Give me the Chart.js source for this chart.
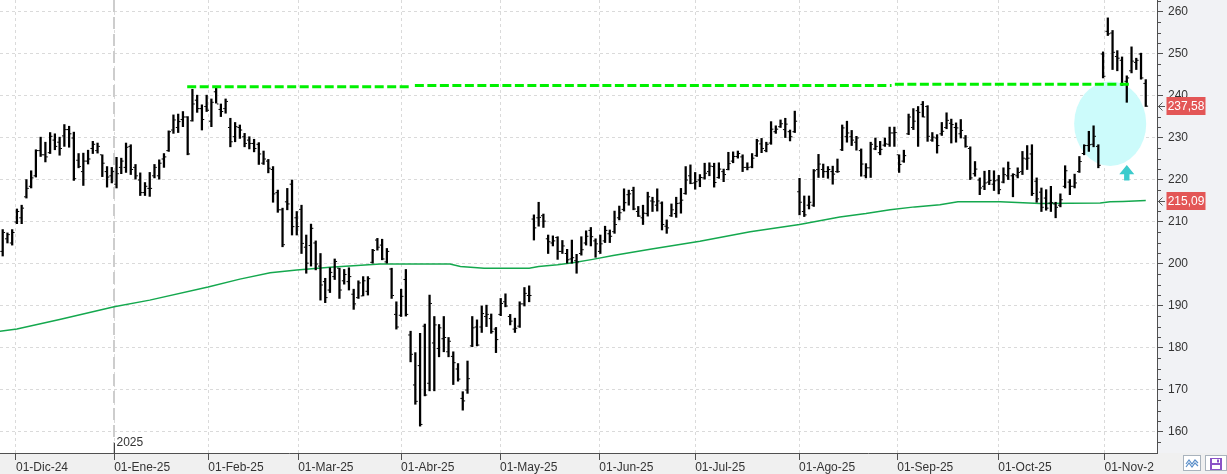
<!DOCTYPE html>
<html><head><meta charset="utf-8">
<script src="https://cdn.jsdelivr.net/npm/chart.js@4.4.1/dist/chart.umd.min.js"></script>
<style>html,body{margin:0;padding:0;background:#f0f0f0;overflow:hidden}canvas{display:block}</style>
</head><body>
<canvas id="c" width="1227" height="474"></canvas>
<script>
// ---------------- DATA ----------------
const highs = [
208.2,207.4,208.2,213.1,214,220.1,222.2,227.2,230.2,229,
231.3,231,230.2,233.2,232.8,231.4,226.3,226.4,227.1,229.2,
228.8,226,223.2,223,225.4,225.2,228.8,228.4,223.7,221.7,
219.4,221.8,223.7,224.8,226.3,231.7,235.5,235.7,236.3,235.1,
241.6,240.2,237.9,240.2,239.3,242.2,238.1,239.3,234.7,233.7,
233.1,231.1,230.3,229.7,228.9,226.9,224.9,223.2,217.6,213.3,
218,220,212.5,214,206.9,209.5,205.5,202.5,196.6,199.1,
201.2,199,198.7,199.1,194,196,197,197,203.5,206.1,
205.9,203.7,199,191,194,198.7,184,178.9,183.5,185.7,
192.6,187.5,185.6,187.5,182.5,179.1,176.3,169.6,176.9,187.5,
186.7,190,190.2,188.1,184.9,191.8,192.9,188,187.1,191,
194.4,194.8,211.7,214.7,211.9,206.9,206.7,206.5,205.6,203.5,
205.7,202.3,206.5,207.9,208.7,206,206.9,209,208.1,212.6,
213.8,217.9,217.6,218.3,213.7,214,217.1,215.9,217.9,214.8,
210.5,214.3,215.9,218,223.2,223.6,221.8,221.3,224,224.1,
224,224.1,222.6,226.6,226.7,226.9,226,224.1,226.3,229.7,
229.9,229,233.9,232.9,234.3,234.7,231.9,236.4,220.4,216.2,
216.2,222.5,226.1,223.8,223.2,223.3,225,233.1,234,231.8,
230.4,227.4,223.9,229,230,229.2,230,232.6,232.6,226,
227.1,235.7,237,237.5,238.7,237.7,231.3,230.8,233.7,236,
234.5,233.6,234.4,230.6,227.9,224.4,220.5,222.1,222.3,222.2,
221.1,222.9,224.3,221.5,222.9,226.8,228.2,228.4,220.5,218.1,
217.7,218.5,214.7,216.7,223.4,220.1,221.4,225.6,228.4,231.6,
232.9,228.4,250.5,258.6,255.6,250.8,249.3,244.8,251.7,249,
250.2,243.9];
const lows = [
201.9,205,204.5,209.6,209.6,215.7,218.1,220.7,225.6,224.3,
226.3,227.2,225.9,228,227.8,219.9,222.9,218.7,223.8,226.3,
226.4,220.8,218.3,219.3,218.1,221.5,221.8,221.3,220.2,216.3,
216.3,216.1,220.5,220.2,223,226.8,231.1,231.3,232.7,226,
234,236.1,231.9,236.3,232.7,238.3,235.1,235.9,227.9,229.1,
229.9,227.9,227.4,226.7,223.7,223.7,221.7,214.7,212.3,204.1,
212.9,206.9,206.9,202.5,197.8,199.5,198.6,191.4,190.8,193.2,
196.3,191.8,195.2,193.8,189.2,191.8,192.4,192.6,200.2,203.3,
201,200.2,191.8,184.5,187.5,187.6,176.7,166.6,161.4,168.6,
169.8,169.8,177.9,179.1,177.9,171.3,172.1,165.2,169.2,180.3,
180.5,183.7,185.1,183.5,178.9,187.7,189.8,185.5,183.7,184.9,
190,191,205.7,209,208.7,202.5,204.3,201.1,202.5,200.2,
200.2,197.8,202.1,204.5,204.3,201.6,202.5,205.1,205.1,207.3,
210.5,212.6,214,212.9,211.3,209.4,211.4,212.5,212.6,208.1,
207.3,211.3,211.1,212.1,216.6,219.1,217.8,218.4,220.2,221,
218.3,220.4,219.6,222.4,224.1,225.2,222,222.4,222.9,225.6,
226.5,226.7,228.5,231.1,232.5,230.1,229.3,231.3,211.7,211.3,
213.1,213.7,220.6,220.6,220.4,219,221.8,227,229,228.2,
227.1,220.9,220.5,220.6,227.2,226,228,228,228,221.8,
224.2,230.8,232,228,235,229.2,229.2,226.4,230.6,232.2,
228.8,229,230,227.8,220.1,220.9,216.5,217.7,218.9,217.5,
216.7,219.3,220.1,216,220.5,221.3,222.5,216.3,214.7,212.5,
212.8,212.5,211,213.6,218.1,216.5,218.1,221.8,226,226.8,
227.9,222.9,244.3,254.4,246.3,246,242.5,238.5,245.5,246.3,
244,237.5];
const opens = [
203,206,205,210,211,216,218.5,221,227,226,
226.5,229.5,229,230.5,232,230,224.7,222,224.5,227.5,
227,226,222,221,219,223,223,228,223,220,
217,218,221,221,225,227,231.9,232.5,234.4,235,
234.1,239,237,237.5,234,241,236.8,237,232.5,230.3,
232.5,230.3,229.5,228.7,228.5,224,224.5,222.5,217,212.9,
214.8,219,211,213,204,204.4,205,199.5,195.8,193.8,
197,199,196,195.8,192.8,192,192.4,193.5,200.4,205.7,
204.5,200.5,198.8,188,187.8,196.3,183.1,171.2,175.8,185.2,
171.6,181.2,179.9,182.2,179.1,178,175,168,170,180.5,
185,185,187.5,187,184.5,188,191,187.5,184.5,185.2,
190.5,192.5,210.7,211,211.5,206,205,206.3,203,202.5,
201.2,200.8,202.5,205,208,205.5,203,205.5,207.2,207.7,
211,213,216.5,217.5,212.5,211,212,215,214,214.5,
209,211.5,212,214.5,216.8,221,219.3,220,220.5,222,
223.2,220.6,222,222.5,224.5,225.6,225.5,223,223.1,225.8,
228.6,227,228.8,231.5,232.7,232,231.5,231.5,217.2,212.5,
214,214,222.5,222.5,222,222,222,227.2,230.3,230.3,
229,227,221,222.9,227.4,226.5,228.3,228.5,231.2,226,
224.5,231,232.5,236.5,238,237.5,229.5,230,231,232.5,
233.5,232.5,231,230,227.5,221.5,220,218.5,219.5,219,
220,219.5,221,221,221,222,225,226.2,219.7,217.1,
215.7,214.5,214.3,214,218.5,219.5,218.5,222,226.3,228.2,
228.5,228,250,255.4,255,249.4,248.5,243.5,246,248,
250,243];
const closes = [
207.5,207,207.5,212.5,213.3,218,220.5,227,226,225.5,
230.4,228,227.5,232,231,220.3,223.2,224.5,225,228.5,
228,224,220.7,222,221.5,224.5,227.8,222.5,221,217,
218.5,218,223,224,225.5,231.5,234.3,233.9,235,226.2,
238.1,237,234.4,236.6,238.5,238.1,236.3,238.7,229.1,232.7,
231.9,228.7,228.7,227.5,226.2,225,222.8,216.7,212.9,204.6,
214.3,208.9,208.9,204.9,200.2,208.5,200,195,192,198,
200.6,193.8,197.5,197,190.5,195.5,196,196.5,203.2,204,
201.2,203,192.5,185,192.3,188,178.5,167.3,161.8,168.8,
190.6,185.5,184.8,182.5,181.6,176.5,172.6,167.4,172.7,184.8,
180.7,188.2,188,183.9,182,190.6,190,186.4,184.7,190.5,
193,192.5,208.6,211.1,210.2,205.3,205.5,203,204.3,201,
201.5,200.5,203.4,206.6,206.5,204.8,204.8,208,206.6,209.4,
212.2,214.6,216.7,213.1,211.4,212.1,216,214.8,215,209.4,
208.6,212.9,214.4,215.2,220,219.2,219.6,220.6,221.6,223.3,
219.4,222.6,221.3,223.9,225.6,226.3,223,223,225.2,229.3,
227.5,228.5,232.1,232.1,233.4,233.3,230.3,234,214.7,211.7,
214.7,222.2,223.8,222,222.5,221.4,222,232.4,231.2,229.5,
230,223.8,222.9,228.5,228,227.3,228.6,231.2,231.3,223.7,
225.8,235,234,236.1,235,230.4,230.2,228.2,231.6,234.2,
233.2,232.4,231.8,228,220.5,222.6,218.1,219.3,219.9,219.8,
217.7,221.3,222.7,221.3,221.8,225.2,225.2,216.8,215.5,213.5,
213.3,214.6,213.5,215.3,222.2,218.5,219.3,224.4,228.2,228.4,
230.4,223.5,244.7,254.8,250.4,249,242.7,244.3,248.3,248.5,
244.3,237.58];

// 200-session moving average, read at bar positions
const maIdx = [-0.6,3,12,23.5,31,43.3,50,56.4,62,69,79.6,84,94.3,96.5,101.5,111,113,117,120.2,124.4,128.7,136.5,147,157.6,168,176.5,182,187.1,192.3,197.6,201.4,210.3,218.7,231.4,233.5,236.2,241];
const maVal = [184.0,184.5,186.8,189.8,191.4,194.5,196.4,197.9,198.6,199.2,200.0,200.0,200.0,199.4,199.0,199.0,199.4,199.8,200.3,201.1,202.0,203.5,205.4,207.7,209.4,211.2,212.0,212.9,213.6,214.1,214.8,214.8,214.4,214.5,214.8,214.9,215.09];

// hand-drawn resistance line (three pieces)
const resIdx = [38.9,85.9,86.4,86.9,187.4,187.8,188.1,238.0];
const resVal = [242.2,242.2,null,242.5,242.5,null,242.8,242.8];

// axis ticks
const monthPos = [2.8,23.5,43.35,62.3,84.0,104.85,125.8,146.0,167.9,188.6,209.9,232.3];
const monthLabels = ['01-Dic-24','01-Ene-25','01-Feb-25','01-Mar-25','01-Abr-25','01-May-25','01-Jun-25','01-Jul-25','01-Ago-25','01-Sep-25','01-Oct-25','01-Nov-25'];
const yTicks = [160,170,180,190,200,210,220,230,240,250,260];
const yearPos = 23.5, yearLabel = '2025';

// annotations (data coordinates)
const ellipseAnn = {cx:233.5, cy:233.4, rx:7.6, ry:10.05};
const arrowAnn = {x:237.0, y:223.6};

// ---------------- layout constants ----------------
const X_MIN = -0.569, X_MAX = 243.37, Y_MIN = 155, Y_MAX = 262.857;
const FONT = "'Liberation Sans', Arial, sans-serif";
const Y_FONT = {family: FONT, size: 12};

const fmt = v => v.toFixed(2).replace('.', ',');

const bgPlugin = {
  id: 'bg',
  beforeDraw(chart) {
    const {ctx, chartArea: a, width, height} = chart;
    ctx.save();
    ctx.fillStyle = '#f0f0f0'; ctx.fillRect(0, 0, width, height);
    ctx.fillStyle = '#f1f2f5'; ctx.fillRect(a.right, 0, width - a.right, a.bottom);
    ctx.fillStyle = '#ffffff'; ctx.fillRect(a.left, a.top, a.right - a.left, a.bottom - a.top);
    ctx.restore();
  },
  beforeDatasetsDraw(chart) {
    const {ctx, chartArea: a, scales: {x, y}} = chart;
    ctx.save();
    ctx.beginPath(); ctx.rect(a.left, a.top, a.right - a.left, a.bottom - a.top); ctx.clip();
    // year separator
    const yx = Math.round(x.getPixelForValue(yearPos));
    ctx.strokeStyle = '#cdcdcd'; ctx.lineWidth = 2; ctx.setLineDash([12, 5]);
    ctx.beginPath(); ctx.moveTo(yx, a.top); ctx.lineTo(yx, a.bottom); ctx.stroke();
    ctx.setLineDash([]);
    // ellipse
    const cx = x.getPixelForValue(ellipseAnn.cx), cy = y.getPixelForValue(ellipseAnn.cy);
    const rx = Math.abs(x.getPixelForValue(ellipseAnn.cx + ellipseAnn.rx) - cx);
    const ry = Math.abs(y.getPixelForValue(ellipseAnn.cy + ellipseAnn.ry) - cy);
    ctx.fillStyle = '#ccfbfb';
    ctx.beginPath(); ctx.ellipse(cx, cy, rx, ry, 0, 0, Math.PI * 2); ctx.fill();
    ctx.restore();
  },
  afterDraw(chart) {
    const {ctx, chartArea: a, scales: {x, y}, width, height} = chart;
    ctx.save();
    // clip month labels at the price panel
    ctx.fillStyle = '#f0f0f0'; ctx.fillRect(a.right - 3, a.bottom + 8, width - a.right + 3, height - a.bottom);
    // minor ticks on price axis
    ctx.strokeStyle = '#505050'; ctx.lineWidth = 1;
    ctx.beginPath();
    for (let v = 157.5; v < Y_MAX; v += 2.5) {
      if (Math.abs(v % 10) < 1e-6) continue;
      const py = Math.round(y.getPixelForValue(v)) + 0.5;
      ctx.moveTo(a.right, py); ctx.lineTo(a.right + 4, py);
    }
    ctx.stroke();
    // year tick and label
    const yx = Math.round(x.getPixelForValue(yearPos)) + 0.5;
    ctx.strokeStyle = '#404040';
    ctx.beginPath(); ctx.moveTo(yx, a.bottom - 10); ctx.lineTo(yx, a.bottom); ctx.stroke();
    ctx.fillStyle = '#333'; ctx.font = '12px ' + FONT; ctx.textAlign = 'left'; ctx.textBaseline = 'middle';
    ctx.fillText(yearLabel, yx + 2, a.bottom - 10);
    // arrow annotation
    const ax = x.getPixelForValue(arrowAnn.x), ay = y.getPixelForValue(arrowAnn.y);
    ctx.fillStyle = '#3ccbcc';
    ctx.beginPath();
    ctx.moveTo(ax, ay); ctx.lineTo(ax + 7.5, ay + 9.3); ctx.lineTo(ax + 2.7, ay + 9.3); ctx.lineTo(ax + 2.7, ay + 15.7);
    ctx.lineTo(ax - 2.7, ay + 15.7); ctx.lineTo(ax - 2.7, ay + 9.3); ctx.lineTo(ax - 7.5, ay + 9.3); ctx.closePath(); ctx.fill();
    // price tags
    const tag = (val) => {
      const py = y.getPixelForValue(val);
      ctx.fillStyle = '#e35656';
      ctx.fillRect(a.right + 9.5, Math.round(py) - 9, 39, 18);
      ctx.fillStyle = '#ffffff';
      ctx.font = '12px ' + FONT; ctx.textAlign = 'center'; ctx.textBaseline = 'middle';
      ctx.fillText(fmt(val), a.right + 29, Math.round(py) + 0.5);
      ctx.strokeStyle = '#555'; ctx.lineWidth = 1;
      const cy = Math.round(py) + 0.5;
      ctx.beginPath(); ctx.moveTo(a.right + 5.5, cy - 4); ctx.lineTo(a.right + 1.5, cy); ctx.lineTo(a.right + 5.5, cy + 4);
      ctx.moveTo(a.right + 1.5, cy); ctx.lineTo(a.right + 8, cy); ctx.stroke();
    };
    tag(closes[closes.length - 1]);
    tag(maVal[maVal.length - 1]);
    // toolbar icons bottom-right
    ctx.fillStyle = '#ffffff'; ctx.strokeStyle = '#a9b3bd'; ctx.lineWidth = 1;
    ctx.fillRect(1183.5, 455.5, 17, 15); ctx.strokeRect(1183.5, 455.5, 17, 15);
    ctx.fillRect(1205.5, 455.5, 21, 15); ctx.strokeRect(1205.5, 455.5, 21, 15);
    ctx.strokeStyle = '#5b8fc9'; ctx.lineWidth = 1.2;
    ctx.beginPath(); ctx.moveTo(1186, 464); ctx.lineTo(1189, 460); ctx.lineTo(1192, 464); ctx.lineTo(1195, 460); ctx.lineTo(1198, 463); ctx.stroke();
    ctx.beginPath(); ctx.moveTo(1186, 467); ctx.lineTo(1189, 463); ctx.lineTo(1192, 467); ctx.lineTo(1195, 463); ctx.lineTo(1198, 466); ctx.stroke();
    ctx.fillStyle = '#8a52c6'; ctx.fillRect(1210, 458, 12, 12);
    ctx.fillStyle = '#ffffff'; ctx.fillRect(1212, 459, 8, 4); ctx.fillRect(1212, 465, 8, 4);
    ctx.fillStyle = '#8a52c6'; ctx.fillRect(1217, 459.5, 2, 3);
    ctx.restore();
  }
};

const barData = highs.map((h, i) => ({x: i, y: [lows[i], h]}));
const openData = opens.map((o, i) => ({x: i - 0.33, y: o}));
const closeData = closes.map((c, i) => ({x: i + 0.33, y: c}));
const maData = maIdx.map((v, k) => ({x: v, y: maVal[k]}));
const resData = resIdx.map((v, k) => ({x: v, y: resVal[k]}));

const gridCommon = {color: '#dadada', lineWidth: 1, drawTicks: true, tickColor: '#505050', tickWidth: 1, offset: false, drawOnChartArea: true};
const tickPt = {showLine: false, pointStyle: 'line', pointRadius: 0.8, pointHoverRadius: 0, pointBorderWidth: 1, pointHoverBorderWidth: 0, pointBorderColor: '#000', pointBackgroundColor: '#000'};

new Chart(document.getElementById('c'), {
  type: 'bar',
  data: {
    datasets: [
      {type: 'line', label: 'res', data: resData, borderColor: '#00f000', borderWidth: 3, borderDash: [9, 3.5], borderCapStyle: 'butt', pointRadius: 0, pointHoverRadius: 0, spanGaps: false, order: 0},
      Object.assign({type: 'line', label: 'open', data: openData, order: 1}, tickPt),
      Object.assign({type: 'line', label: 'close', data: closeData, order: 2}, tickPt),
      {type: 'bar', label: 'hl', data: barData, backgroundColor: '#000', borderWidth: 0, barThickness: 1.6, grouped: false, order: 3},
      {type: 'line', label: 'ma', data: maData, borderColor: '#14a84e', borderWidth: 1.5, pointRadius: 0, pointHoverRadius: 0, tension: 0, order: 4}
    ]
  },
  options: {
    responsive: false, animation: false, events: [], devicePixelRatio: 1,
    layout: {padding: 0, autoPadding: false},
    plugins: {legend: {display: false}, tooltip: {enabled: false}},
    scales: {
      x: {
        type: 'linear', position: 'bottom', min: X_MIN, max: X_MAX, offset: false,
        afterBuildTicks: s => { s.ticks = monthPos.map(v => ({value: v})); },
        afterFit: s => { s.height = 21; s.paddingLeft = 0; s.paddingRight = 0; },
        ticks: {autoSkip: false, maxRotation: 0, minRotation: 0, align: 'start', padding: 0, color: '#333',
                font: {family: FONT, size: 12}, callback: (v, i) => monthLabels[i]},
        grid: Object.assign({}, gridCommon, {tickLength: 7}),
        border: {display: true, color: '#505050', width: 1, dash: [3, 3]}
      },
      y: {
        type: 'linear', position: 'right', min: Y_MIN, max: Y_MAX, beginAtZero: false,
        afterBuildTicks: s => { s.ticks = yTicks.map(v => ({value: v})); },
        afterFit: s => { s.width = 70; s.paddingTop = 0; s.paddingBottom = 0; },
        ticks: {padding: 5, crossAlign: 'near', color: '#333', font: Y_FONT, callback: v => String(v)},
        grid: Object.assign({}, gridCommon, {tickLength: 6}),
        border: {display: true, color: '#505050', width: 1, dash: [3, 3]}
      }
    }
  },
  plugins: [bgPlugin]
});
</script>
</body></html>
